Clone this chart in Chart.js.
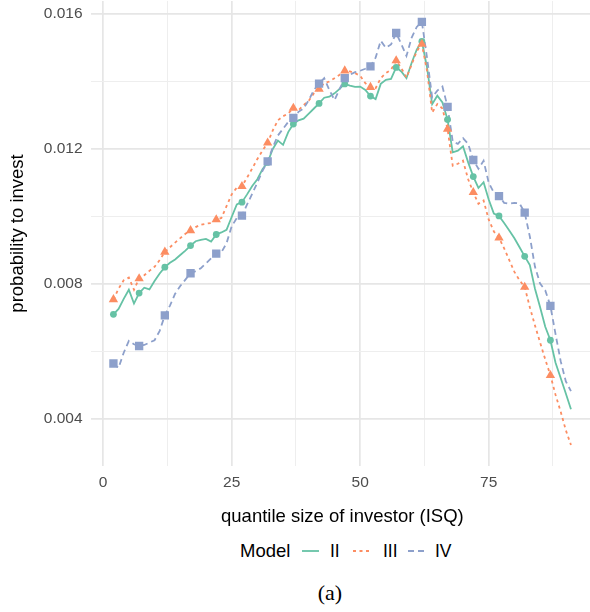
<!DOCTYPE html>
<html>
<head>
<meta charset="utf-8">
<script src="https://cdn.jsdelivr.net/npm/chart.js@4.4.1/dist/chart.umd.min.js"></script>
<style>
  body { margin: 0; background: #fff; overflow: hidden; width: 590px; height: 612px; position: relative; }
  #wrap { position: absolute; left: 0; top: -5px; width: 600px; height: 533px; }
  .lg { position: absolute; top: 540px; height: 22px; line-height: 22px; font-family: "Liberation Sans", Arial, sans-serif; color: #000; white-space: nowrap; }
  .lg svg { display: block; margin-top: 5px; }
  #caption { position: absolute; top: 580px; left: 0; width: 660px; text-align: center; font-family: "Liberation Serif", "Times New Roman", serif; font-size: 22px; color: #000; }
</style>
</head>
<body>
<div id="wrap"><canvas id="myChart" width="600" height="533"></canvas></div>

<div class="lg" style="left:240px;font-size:18.5px;">Model</div>
<div class="lg" style="left:302px;"><svg width="17" height="12"><line x1="0" y1="6" x2="17" y2="6" stroke="#66c2a5" stroke-width="1.8"/></svg></div>
<div class="lg" style="left:330px;font-size:17.5px;">II</div>
<div class="lg" style="left:353px;"><svg width="17" height="12"><line x1="0" y1="6" x2="17" y2="6" stroke="#fc8d62" stroke-width="1.8" stroke-dasharray="3,3.5"/></svg></div>
<div class="lg" style="left:383px;font-size:17.5px;">III</div>
<div class="lg" style="left:408px;"><svg width="17" height="12"><line x1="0" y1="6" x2="17" y2="6" stroke="#8da0cb" stroke-width="1.8" stroke-dasharray="6,4"/></svg></div>
<div class="lg" style="left:435px;font-size:17.5px;">IV</div>
<div id="caption">(a)</div>

<script>
// quantile size of investor (ISQ)
const quantiles = [2, 3, 4, 5, 6, 7, 8, 9, 10, 11, 12, 13, 14, 15, 16, 17, 18, 19, 20, 21,
  22, 23, 24, 25, 26, 27, 28, 29, 30, 31, 32, 33, 34, 35, 36, 37, 38, 39, 40, 41,
  42, 43, 44, 45, 46, 47, 48, 49, 50, 51, 52, 53, 54, 55, 56, 57, 58, 59, 60, 61,
  62, 63, 64, 65, 66, 67, 68, 69, 70, 71, 72, 73, 74, 75, 76, 77, 78, 79, 80, 81,
  82, 83, 84, 85, 86, 87, 88, 89, 90, 91];
const markerQuantiles = [2, 7, 12, 17, 22, 27, 32, 37, 42, 47, 52, 57, 62, 67, 72, 77, 82, 87];

// probability to invest
const modelII = [0.00709, 0.00725, 0.00755, 0.00782, 0.00741, 0.00772, 0.00788, 0.00783, 0.00808, 0.00830,
  0.00849, 0.00862, 0.00872, 0.00885, 0.00898, 0.00913, 0.00926, 0.00930, 0.00933, 0.00925,
  0.00946, 0.00952, 0.00960, 0.00998, 0.01035, 0.01042, 0.01065, 0.01090, 0.01110, 0.01140,
  0.01160, 0.01200, 0.01225, 0.01212, 0.01250, 0.01274, 0.01285, 0.01290, 0.01305, 0.01320,
  0.01335, 0.01352, 0.01355, 0.01365, 0.01378, 0.01393, 0.01388, 0.01384, 0.01385, 0.01375,
  0.01357, 0.01348, 0.01393, 0.01405, 0.01408, 0.01442, 0.01430, 0.01410, 0.01455, 0.01495,
  0.01519, 0.01442, 0.01333, 0.01358, 0.01338, 0.01287, 0.01190, 0.01195, 0.01208, 0.01160,
  0.01118, 0.01084, 0.01101, 0.01050, 0.01008, 0.01001, 0.00980, 0.00958, 0.00935, 0.00908,
  0.00881, 0.00855, 0.00785, 0.00730, 0.00672, 0.00632, 0.00565, 0.00520, 0.00474, 0.00427];
const modelIII = [0.00753, 0.00785, 0.00810, 0.00818, 0.00782, 0.00815, 0.00825, 0.00838, 0.00850, 0.00870,
  0.00894, 0.00908, 0.00922, 0.00935, 0.00948, 0.00958, 0.00968, 0.00975, 0.00978, 0.00980,
  0.00990, 0.00995, 0.01030, 0.01065, 0.01085, 0.01089, 0.01115, 0.01142, 0.01170, 0.01195,
  0.01218, 0.01255, 0.01285, 0.01297, 0.01305, 0.01321, 0.01315, 0.01330, 0.01343, 0.01365,
  0.01378, 0.01395, 0.01400, 0.01410, 0.01420, 0.01432, 0.01430, 0.01425, 0.01417, 0.01395,
  0.01383, 0.01380, 0.01410, 0.01425, 0.01435, 0.01462, 0.01440, 0.01412, 0.01450, 0.01490,
  0.01511, 0.01432, 0.01308, 0.01333, 0.01320, 0.01259, 0.01150, 0.01156, 0.01165, 0.01110,
  0.01071, 0.01037, 0.01047, 0.00990, 0.00955, 0.00936, 0.00905, 0.00870, 0.00835, 0.00810,
  0.00790, 0.00730, 0.00676, 0.00625, 0.00575, 0.00528, 0.00470, 0.00420, 0.00365, 0.00321];
const modelIV = [0.00563, 0.00550, 0.00595, 0.00630, 0.00620, 0.00615, 0.00618, 0.00625, 0.00632, 0.00660,
  0.00706, 0.00735, 0.00770, 0.00793, 0.00812, 0.00831, 0.00837, 0.00846, 0.00860, 0.00875,
  0.00889, 0.00893, 0.00920, 0.00970, 0.00995, 0.01002, 0.01035, 0.01067, 0.01100, 0.01135,
  0.01163, 0.01205, 0.01240, 0.01260, 0.01280, 0.01292, 0.01310, 0.01320, 0.01345, 0.01375,
  0.01394, 0.01410, 0.01375, 0.01345, 0.01378, 0.01410, 0.01420, 0.01428, 0.01432, 0.01438,
  0.01445, 0.01471, 0.01521, 0.01500, 0.01510, 0.01544, 0.01511, 0.01476, 0.01530, 0.01562,
  0.01577, 0.01471, 0.01353, 0.01373, 0.01385, 0.01325, 0.01222, 0.01215, 0.01232, 0.01215,
  0.01167, 0.01141, 0.01165, 0.01100, 0.01070, 0.01060, 0.01040, 0.01037, 0.01040, 0.01038,
  0.01011, 0.00940, 0.00850, 0.00800, 0.00780, 0.00734, 0.00650, 0.00570, 0.00510, 0.00481];

// axis ticks (major are labelled, minor only get a faint grid line)
const xTicks = [0, 25, 50, 75];
const xMinorTicks = [12.5, 37.5, 62.5, 87.5];
const yTicks = [0.004, 0.008, 0.012, 0.016];
const yMinorTicks = [0.006, 0.010, 0.014];

const GREEN = '#66c2a5', ORANGE = '#fc8d62', BLUE = '#8da0cb';

function points(values) {
  return quantiles.map((q, i) => ({ x: q, y: values[i] }));
}
function markers(values) {
  return quantiles.map((q, i) => ({ x: q, y: values[i] }))
    .filter(p => markerQuantiles.includes(p.x));
}
function lineSet(label, values, color, dash, order) {
  return {
    label: label, data: points(values), borderColor: color, borderWidth: 1.8,
    borderDash: dash, pointRadius: 0, fill: false, tension: 0, order: order
  };
}
function markerSet(label, values, color, style, radius) {
  return {
    label: label, data: markers(values), showLine: false, pointStyle: style,
    pointRadius: radius, pointBackgroundColor: color, pointBorderWidth: 0,
    borderColor: color, order: 0
  };
}

const allX = xTicks.concat(xMinorTicks).sort((a, b) => a - b);
const allY = yTicks.concat(yMinorTicks).sort((a, b) => a - b);

function gridColor(major, v) { return major.includes(v) ? '#e6e6e6' : '#eeeeee'; }
function gridWidth(major, v) { return major.includes(v) ? 1.7 : 1; }

new Chart(document.getElementById('myChart').getContext('2d'), {
  type: 'line',
  data: {
    datasets: [
      markerSet('IV', modelIV, BLUE, 'rect', 5.9),
      markerSet('III', modelIII, ORANGE, 'triangle', 5.4),
      markerSet('II', modelII, GREEN, 'circle', 3.4),
      lineSet('IV', modelIV, BLUE, [6, 4], 1),
      lineSet('III', modelIII, ORANGE, [3, 3.5], 2),
      lineSet('II', modelII, GREEN, [], 3)
    ]
  },
  options: {
    responsive: false,
    animation: false,
    layout: { padding: 0 },
    plugins: { legend: { display: false }, tooltip: { enabled: false } },
    scales: {
      x: {
        type: 'linear', min: -2.44, max: 95.5,
        afterBuildTicks: s => { s.ticks = allX.map(v => ({ value: v })); },
        afterFit: s => { s.height = 62; s.paddingLeft = 0; s.paddingRight = 0; },
        ticks: {
          autoSkip: false, maxRotation: 0, padding: 7, color: '#4d4d4d',
          font: { family: 'Liberation Sans', size: 15.5 },
          callback: v => xTicks.includes(v) ? String(v) : ''
        },
        grid: {
          drawTicks: false,
          color: c => gridColor(xTicks, c.tick.value),
          lineWidth: c => gridWidth(xTicks, c.tick.value)
        },
        border: { display: false },
        title: {
          display: true, text: 'quantile size of investor (ISQ)', color: '#000',
          font: { family: 'Liberation Sans', size: 18.5 }, padding: 0
        }
      },
      y: {
        type: 'linear', min: 0.002587, max: 0.016394,
        afterBuildTicks: s => { s.ticks = allY.map(v => ({ value: v })); },
        afterFit: s => { s.width = 90.6; s.paddingTop = 0; s.paddingBottom = 0; },
        ticks: {
          autoSkip: false, padding: 8, color: '#4d4d4d',
          font: { family: 'Liberation Sans', size: 15.5 },
          callback: v => yTicks.includes(v) ? v.toFixed(3) : ''
        },
        grid: {
          drawTicks: false,
          color: c => gridColor(yTicks, c.tick.value),
          lineWidth: c => gridWidth(yTicks, c.tick.value)
        },
        border: { display: false },
        title: {
          display: true, text: 'probability to invest', color: '#000',
          font: { family: 'Liberation Sans', size: 18.5 }, padding: { top: 7, bottom: 0 }
        }
      }
    }
  }
});
</script>
</body>
</html>
